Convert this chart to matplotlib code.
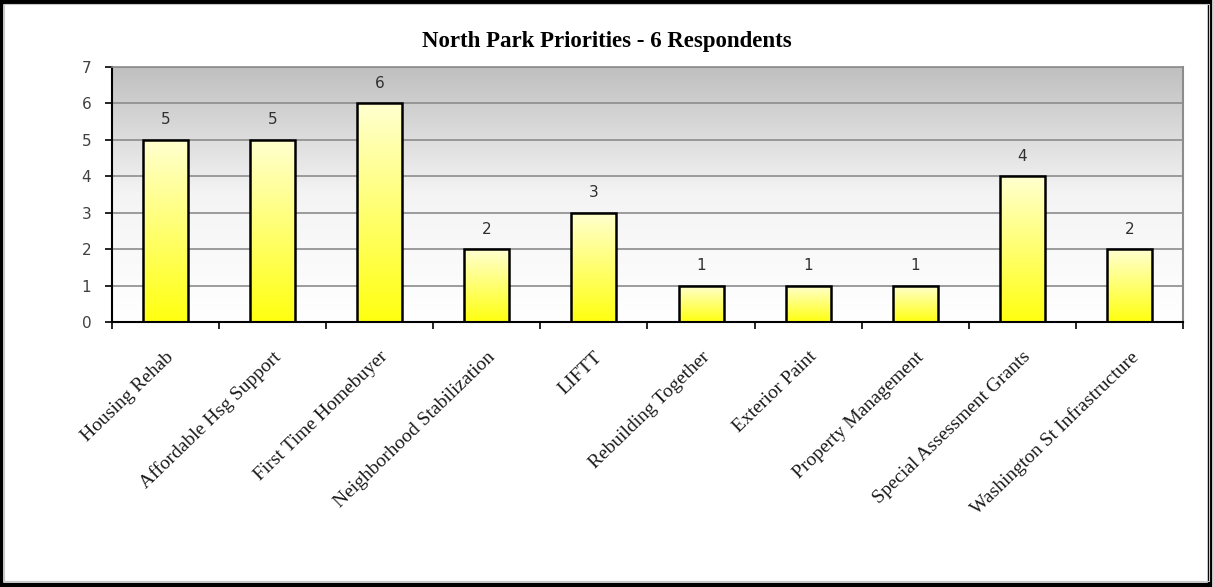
import matplotlib.pyplot as plt
import numpy as np
from matplotlib.colors import LinearSegmentedColormap
from matplotlib.patches import Rectangle


CATEGORIES = [
    'Housing Rehab',
    'Affordable Hsg Support',
    'First Time Homebuyer',
    'Neighborhood Stabilization',
    'LIFTT',
    'Rebuilding Together',
    'Exterior Paint',
    'Property Management',
    'Special Assessment Grants',
    'Washington St Infrastructure',
]
VOTES = [5, 5, 6, 2, 3, 1, 1, 1, 4, 2]
Y_TICKS = [0, 1, 2, 3, 4, 5, 6, 7]
TITLE = 'North Park Priorities - 6 Respondents'


def main():
    fig = plt.figure(figsize=(12.13, 5.87), dpi=100)
    fig.patch.set_facecolor('white')

    # outer frame
    fig.patches.append(Rectangle((0.0012, 0.004), 0.9965, 0.993, transform=fig.transFigure,
                                 fill=False, edgecolor='black', linewidth=3.2))
    fig.patches.append(Rectangle((0.0035, 0.011), 0.993, 0.982, transform=fig.transFigure,
                                 fill=False, edgecolor='#c8c8c8', linewidth=0.8))

    ax = fig.add_axes([0.0923, 0.4514, 0.883, 0.4345])
    x = np.arange(len(CATEGORIES))
    ax.set_xlim(-0.5, len(CATEGORIES) - 0.5)
    ax.set_ylim(0, 7)

    # background gradient: gray on top, white at the bottom
    bg_cmap = LinearSegmentedColormap.from_list('bg', ['#ffffff', '#f4f4f4', '#bfbfbf'])
    grad = np.linspace(0, 1, 256).reshape(-1, 1)
    ax.imshow(grad, aspect='auto', cmap=bg_cmap, origin='lower',
              extent=(-0.5, len(CATEGORIES) - 0.5, 0, 7), zorder=0)

    for t in Y_TICKS[1:]:
        ax.axhline(t, color='#8c8c8c', linewidth=1.2, zorder=1)

    bars = ax.bar(x, VOTES, width=0.42, facecolor='none', edgecolor='black',
                  linewidth=1.8, zorder=3)

    bar_cmap = LinearSegmentedColormap.from_list('bar', ['#ffff10', '#ffffd0'])
    for b in bars:
        bx, by = b.get_x(), b.get_y()
        im = ax.imshow(grad, aspect='auto', cmap=bar_cmap, origin='lower',
                       extent=(bx, bx + b.get_width(), by, by + b.get_height()), zorder=2)
        im.set_clip_path(b)

    ax.set_xlim(-0.5, len(CATEGORIES) - 0.5)
    ax.set_ylim(0, 7)

    ax.bar_label(bars, labels=[str(v) for v in VOTES], padding=9,
                 fontsize=11, color='#303030', family='DejaVu Sans')

    ax.set_yticks(Y_TICKS)
    ax.set_yticklabels([str(t) for t in Y_TICKS], fontsize=11, color='#404040')
    ax.tick_params(axis='y', direction='out', length=5, width=1.2, pad=10)

    ax.set_xticks(np.arange(len(CATEGORIES) + 1) - 0.5, minor=False)
    ax.set_xticklabels([])
    ax.tick_params(axis='x', direction='out', length=5, width=1.2)
    ax.set_xticks(x, minor=True)
    ax.set_xticklabels(CATEGORIES, minor=True, rotation=44, ha='right',
                       rotation_mode='anchor', fontsize=14, family='Liberation Serif',
                       color='#1a1a1a')
    ax.tick_params(axis='x', which='minor', length=0, pad=19)

    ax.spines['left'].set_color('black')
    ax.spines['left'].set_linewidth(1.5)
    ax.spines['bottom'].set_color('black')
    ax.spines['bottom'].set_linewidth(1.5)
    ax.spines['top'].set_color('#8c8c8c')
    ax.spines['top'].set_linewidth(1.2)
    ax.spines['right'].set_color('#8c8c8c')
    ax.spines['right'].set_linewidth(1.5)

    fig.text(0.5, 0.93, TITLE, ha='center', va='center', fontsize=16.5,
             fontweight='bold', family='Liberation Serif')

    fig.savefig('out.png', dpi=100)


if __name__ == '__main__':
    main()
